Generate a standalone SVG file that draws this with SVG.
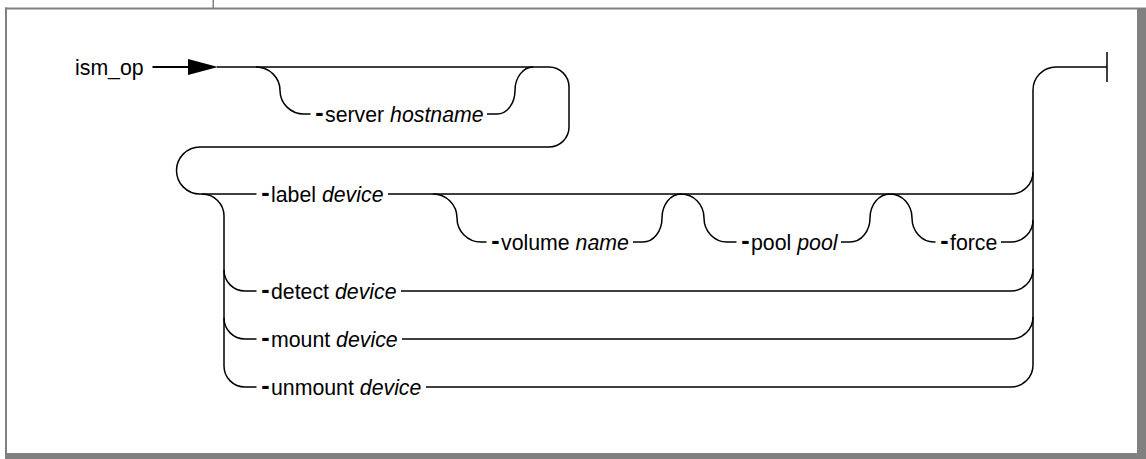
<svg xmlns="http://www.w3.org/2000/svg" width="1146" height="459" viewBox="0 0 1146 459">
<style>
text{font-family:"Liberation Sans",Arial,Helvetica,sans-serif;font-size:21.3px;fill:#000}
.it{font-style:italic}
.d{font-weight:bold;font-size:25px}
.c{fill:none;stroke:#000;stroke-width:1.5}
.fr{fill:#808080}
</style>
<rect width="1146" height="459" fill="#fff"/>
<g id="frame">
<rect class="fr" x="5" y="7.5" width="1132" height="2"/>
<rect class="fr" x="5" y="7.5" width="2" height="447"/>
<rect class="fr" x="1137" y="7.5" width="9" height="451.5"/>
<rect class="fr" x="5" y="453" width="1141" height="6"/>
<rect class="fr" x="212.5" y="0" width="1.5" height="8"/>
</g>
<g id="connectors">
<path d="M152.5,67 H190" fill="none" stroke="#000" stroke-width="2"/>
<polygon points="188,59 218,67 188,75" fill="#000"/>
<path class="c" d="M217,67 H549 A20,20 0 0 1 569,87 V127 A20,20 0 0 1 549,147 H200 A23.5,23.5 0 0 0 200,194 H256.5"/>
<path class="c" d="M256,67 A24,23.5 0 0 1 280,90.5 A24,23.5 0 0 0 304,114 H310.5"/>
<path class="c" d="M487,114 H497 A18,23.5 0 0 0 515,90.5 A18,23.5 0 0 1 533,67"/>
<path class="c" d="M388,194 H1011 A22,22 0 0 0 1033,172"/>
<path class="c" d="M433,194 A24,24 0 0 1 457,218 A24,24 0 0 0 481,242 H486.5"/>
<path class="c" d="M633,242 H643 A19,24 0 0 0 662,218 A19,24 0 0 1 681,194"/>
<path class="c" d="M681,194 A23,24 0 0 1 704,218 A23,24 0 0 0 727,242 H736.5"/>
<path class="c" d="M841,242 H850 A20,24 0 0 0 870,218 A20,24 0 0 1 890,194"/>
<path class="c" d="M890,194 A22,24 0 0 1 912,218 A22,24 0 0 0 934,242 H935.5"/>
<path class="c" d="M1001,242 H1011 A22,22 0 0 0 1033,220"/>
<path class="c" d="M202,194 A22,22 0 0 1 224,216 V366 A21,21 0 0 0 245,387 H256.5"/>
<path class="c" d="M224,270 A21,21 0 0 0 245,291 H256.5"/>
<path class="c" d="M224,318 A21,21 0 0 0 245,339 H256.5"/>
<path class="c" d="M401,291 H1011 A22,22 0 0 0 1033,269"/>
<path class="c" d="M402,339 H1011 A22,22 0 0 0 1033,317"/>
<path class="c" d="M426,387 H1011 A22,22 0 0 0 1033,365"/>
<path class="c" d="M1033,365 V90 A23,23 0 0 1 1056,67 H1107 M1107,52 V82"/>
</g>
<g id="n-start"><text x="75" y="74.5">ism_op</text></g>
<g id="n-server"><text y="122"><tspan class="d" x="315.3" dy="-1.5">-</tspan><tspan x="325" dy="1.5">server </tspan><tspan class="it">hostname</tspan></text></g>
<g id="n-label"><text y="202"><tspan class="d" x="261.3" dy="-1.5">-</tspan><tspan x="271" dy="1.5">label </tspan><tspan class="it">device</tspan></text></g>
<g id="n-volume"><text y="250"><tspan class="d" x="491.3" dy="-1.5">-</tspan><tspan x="501" dy="1.5">volume </tspan><tspan class="it">name</tspan></text></g>
<g id="n-pool"><text y="250"><tspan class="d" x="741.3" dy="-1.5">-</tspan><tspan x="751" dy="1.5">pool </tspan><tspan class="it">pool</tspan></text></g>
<g id="n-force"><text y="250"><tspan class="d" x="940.3" dy="-1.5">-</tspan><tspan x="950" dy="1.5">force</tspan></text></g>
<g id="n-detect"><text y="299"><tspan class="d" x="261.3" dy="-1.5">-</tspan><tspan x="271" dy="1.5">detect </tspan><tspan class="it">device</tspan></text></g>
<g id="n-mount"><text y="347"><tspan class="d" x="261.3" dy="-1.5">-</tspan><tspan x="271" dy="1.5">mount </tspan><tspan class="it">device</tspan></text></g>
<g id="n-unmount"><text y="395"><tspan class="d" x="261.3" dy="-1.5">-</tspan><tspan x="271" dy="1.5">unmount </tspan><tspan class="it">device</tspan></text></g>
</svg>
